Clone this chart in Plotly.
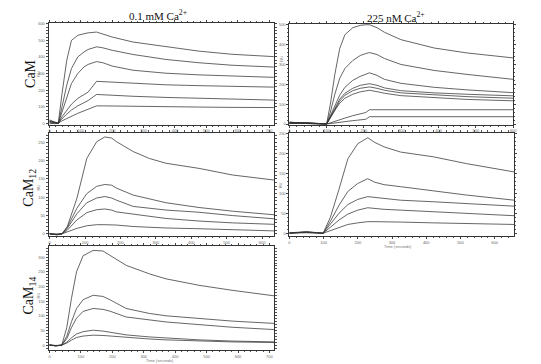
import plotly.graph_objects as go

# ---------------- data ----------------
# Top-left: CaM, 0.1 mM Ca2+
tl_time = [0, 15, 28, 40, 55, 70, 90, 110, 123, 150, 170, 200, 266, 371, 476, 582, 715]
tl_c1 = [8, 2, 0, 180, 380, 500, 530, 540, 545, 550, 538, 520, 490, 461, 435, 416, 402]
tl_c2 = [12, 4, 0, 100, 230, 330, 400, 430, 445, 461, 455, 440, 415, 385, 365, 350, 339]
tl_c3 = [5, -3, 0, 70, 160, 240, 300, 340, 355, 372, 365, 345, 320, 302, 292, 284, 277]
tl_c4 = [15, 6, 0, 40, 80, 115, 150, 175, 188, 253, 251, 247, 240, 232, 227, 222, 218]
tl_c5 = [-4, 2, 0, 28, 55, 80, 105, 125, 137, 174, 172, 168, 163, 156, 150, 145, 140]
tl_c6 = [20, 8, 0, 15, 30, 45, 60, 75, 85, 105, 105, 104, 102, 100, 98, 96, 95]

# Top-right: CaM, 225 nM Ca2+
tr_time = [0, 50, 100, 110, 122, 135, 149, 170, 190, 205, 215, 235, 255, 299, 388, 476, 600]
tr_c1 = [8, 5, 0, 100, 250, 380, 450, 485, 497, 500, 500, 485, 462, 425, 383, 358, 333]
tr_c2 = [6, 4, 0, 60, 150, 230, 280, 320, 345, 355, 360, 350, 330, 300, 270, 250, 225]
tr_c3 = [4, 6, 0, 40, 95, 145, 185, 220, 240, 252, 258, 245, 225, 205, 185, 172, 158]
tr_c4 = [10, 3, 0, 35, 80, 125, 155, 180, 195, 200, 203, 195, 182, 168, 157, 150, 142]
tr_c5 = [2, 7, 0, 32, 75, 115, 145, 168, 180, 185, 187, 180, 170, 157, 146, 138, 130]
tr_c6 = [9, 2, 0, 28, 68, 105, 130, 150, 162, 167, 170, 163, 155, 143, 132, 124, 117]
tr_c7 = [5, 3, 0, 6, 14, 22, 30, 42, 52, 58, 72, 72, 72, 72, 72, 72, 72]
tr_c8 = [3, 5, 0, 3, 6, 9, 12, 17, 21, 24, 37, 37, 37, 37, 37, 37, 37]

# Middle-left: CaM12, 0.1 mM Ca2+
ml_time = [0, 20, 35, 50, 77, 105, 133, 156, 175, 189, 236, 282, 329, 422, 516, 635]
ml_c1 = [0, -2, 0, 20, 97, 206, 252, 265, 262, 252, 225, 206, 193, 179, 161, 147]
ml_c2 = [1, -3, 0, 18, 70, 110, 130, 135, 133, 125, 106, 95, 85, 72, 62, 52]
ml_c3 = [-1, -2, 0, 15, 55, 85, 98, 102, 98, 92, 75, 70, 65, 59, 50, 41]
ml_c4 = [0, -1, 0, 10, 38, 58, 66, 68, 65, 60, 54, 48, 42, 35, 30, 26]
ml_c5 = [1, -2, 0, 5, 15, 22, 25, 25, 25, 24, 20, 18, 16, 14, 11, 8]

# Middle-right: CaM12, 225 nM Ca2+
mr_time = [0, 50, 99, 120, 145, 171, 200, 229, 250, 277, 325, 421, 517, 657]
mr_c1 = [0, 3, 0, 40, 110, 187, 225, 240, 228, 217, 204, 192, 175, 154]
mr_c2 = [1, 4, 0, 30, 70, 105, 125, 137, 128, 122, 117, 106, 96, 83]
mr_c3 = [-1, 2, 0, 22, 50, 72, 85, 92, 90, 88, 83, 79, 75, 68]
mr_c4 = [2, 1, 0, 15, 33, 48, 58, 64, 62, 60, 58, 54, 50, 44]
mr_c5 = [0, 3, 0, 7, 15, 22, 26, 29, 29, 28, 28, 26, 25, 22]

# Bottom-left: CaM14, 0.1 mM Ca2+
bl_time = [0, 20, 39, 55, 70, 86, 107, 139, 170, 192, 244, 318, 371, 476, 581, 716]
bl_c1 = [0, -2, 0, 60, 160, 250, 305, 323, 321, 306, 272, 243, 226, 204, 187, 168]
bl_c2 = [2, -3, 0, 30, 80, 125, 155, 170, 166, 155, 125, 108, 100, 91, 82, 74]
bl_c3 = [-1, -2, 0, 22, 60, 92, 115, 125, 122, 116, 96, 85, 79, 70, 61, 53]
bl_c4 = [1, -1, 0, 10, 25, 38, 46, 51, 48, 44, 35, 28, 24, 18, 14, 11]
bl_c5 = [0, -2, 0, 7, 17, 26, 31, 34, 33, 31, 26, 21, 18, 14, 11, 9]

col_titles = ["0.1 mM Ca<sup>2+</sup>", "225 nM Ca<sup>2+</sup>"]
row_titles = ["CaM", "CaM<sub>12</sub>", "CaM<sub>14</sub>"]
x_title = "Time (seconds)"
y_title = "RU"

panels = [
    dict(t=tl_time, curves=[tl_c1, tl_c2, tl_c3, tl_c4, tl_c5, tl_c6],
         px=(48, 276), py=(21, 124), xr=[-3, 717], yr=[-8, 606], xd=100, yd=100, xm=20, ym=20),
    dict(t=tr_time, curves=[tr_c1, tr_c2, tr_c3, tr_c4, tr_c5, tr_c6, tr_c7, tr_c8],
         px=(291, 517), py=(22, 124), xr=[0, 600], yr=[-3, 505], xd=100, yd=100, xm=20, ym=20),
    dict(t=ml_time, curves=[ml_c1, ml_c2, ml_c3, ml_c4, ml_c5],
         px=(48, 276), py=(132, 237), xr=[-3, 635], yr=[-7, 277], xd=100, yd=50, xm=20, ym=10),
    dict(t=mr_time, curves=[mr_c1, mr_c2, mr_c3, mr_c4, mr_c5],
         px=(291, 518), py=(132, 237), xr=[0, 657], yr=[-8, 253], xd=100, yd=50, xm=20, ym=10),
    dict(t=bl_time, curves=[bl_c1, bl_c2, bl_c3, bl_c4, bl_c5],
         px=(48, 276), py=(247, 352), xr=[-3, 716], yr=[-17, 337], xd=100, yd=50, xm=20, ym=10),
]

W, H = 541, 364
fig = go.Figure()
layout = {}
tickfont = dict(family="Liberation Sans", size=4, color="#666")
for i, p in enumerate(panels):
    n = "" if i == 0 else str(i + 1)
    xa, ya = "x" + n, "y" + n
    for c in p["curves"]:
        fig.add_trace(go.Scatter(x=p["t"], y=c, mode="lines", xaxis=xa, yaxis=ya,
                                 line=dict(color="#333", width=0.75), showlegend=False,
                                 hoverinfo="skip"))
    common = dict(showline=True, linecolor="#333", linewidth=0.8, mirror="allticks",
                  ticks="outside", ticklen=2, tickwidth=0.6, tickcolor="#444",
                  showgrid=False, zeroline=False, tickfont=tickfont,
                  minor=dict(ticks="outside", ticklen=1.2, tickwidth=0.5, tickcolor="#555"))
    layout["xaxis" + n] = dict(common, domain=[p["px"][0] / W, p["px"][1] / W],
                               range=p["xr"], dtick=p["xd"], tick0=0,
                               anchor=ya, minor=dict(common["minor"], dtick=p["xm"]))
    layout["yaxis" + n] = dict(common, domain=[1 - p["py"][1] / H, 1 - p["py"][0] / H],
                               range=p["yr"], dtick=p["yd"], tick0=0,
                               anchor=xa, minor=dict(common["minor"], dtick=p["ym"]))

ann = []
serif = "Liberation Serif"
def add_ann(text, xc, yc, size, family, angle=0, color="#111"):
    ann.append(dict(text=text, x=xc / W, y=1 - yc / H, xref="paper", yref="paper",
                    xanchor="center", yanchor="middle", textangle=angle, showarrow=False,
                    borderpad=0, font=dict(family=family, size=size, color=color)))

add_ann(col_titles[0], 158, 13, 11, serif)
add_ann(col_titles[1], 399, 15, 11, serif)
for txt, yc in zip(row_titles, [72, 188, 297]):
    add_ann(txt, 29, yc, 14, serif, angle=-90)
for xc, yc in [(38, 73), (38, 188), (38, 297), (283, 57), (283, 185)]:
    add_ann(y_title, xc, yc, 4, "Liberation Sans", angle=-90, color="#777")
add_ann(x_title, 160, 362, 4, "Liberation Sans", color="#777")
add_ann(x_title, 401, 247.5, 4, "Liberation Sans", color="#777")

fig.update_layout(width=W, height=H, margin=dict(l=0, r=0, t=0, b=0),
                  paper_bgcolor="white", plot_bgcolor="white", annotations=ann, **layout)
fig.write_html("out.html", config={"displayModeBar": False},
               post_script="document.body.style.margin='0';document.body.style.padding='0';")
